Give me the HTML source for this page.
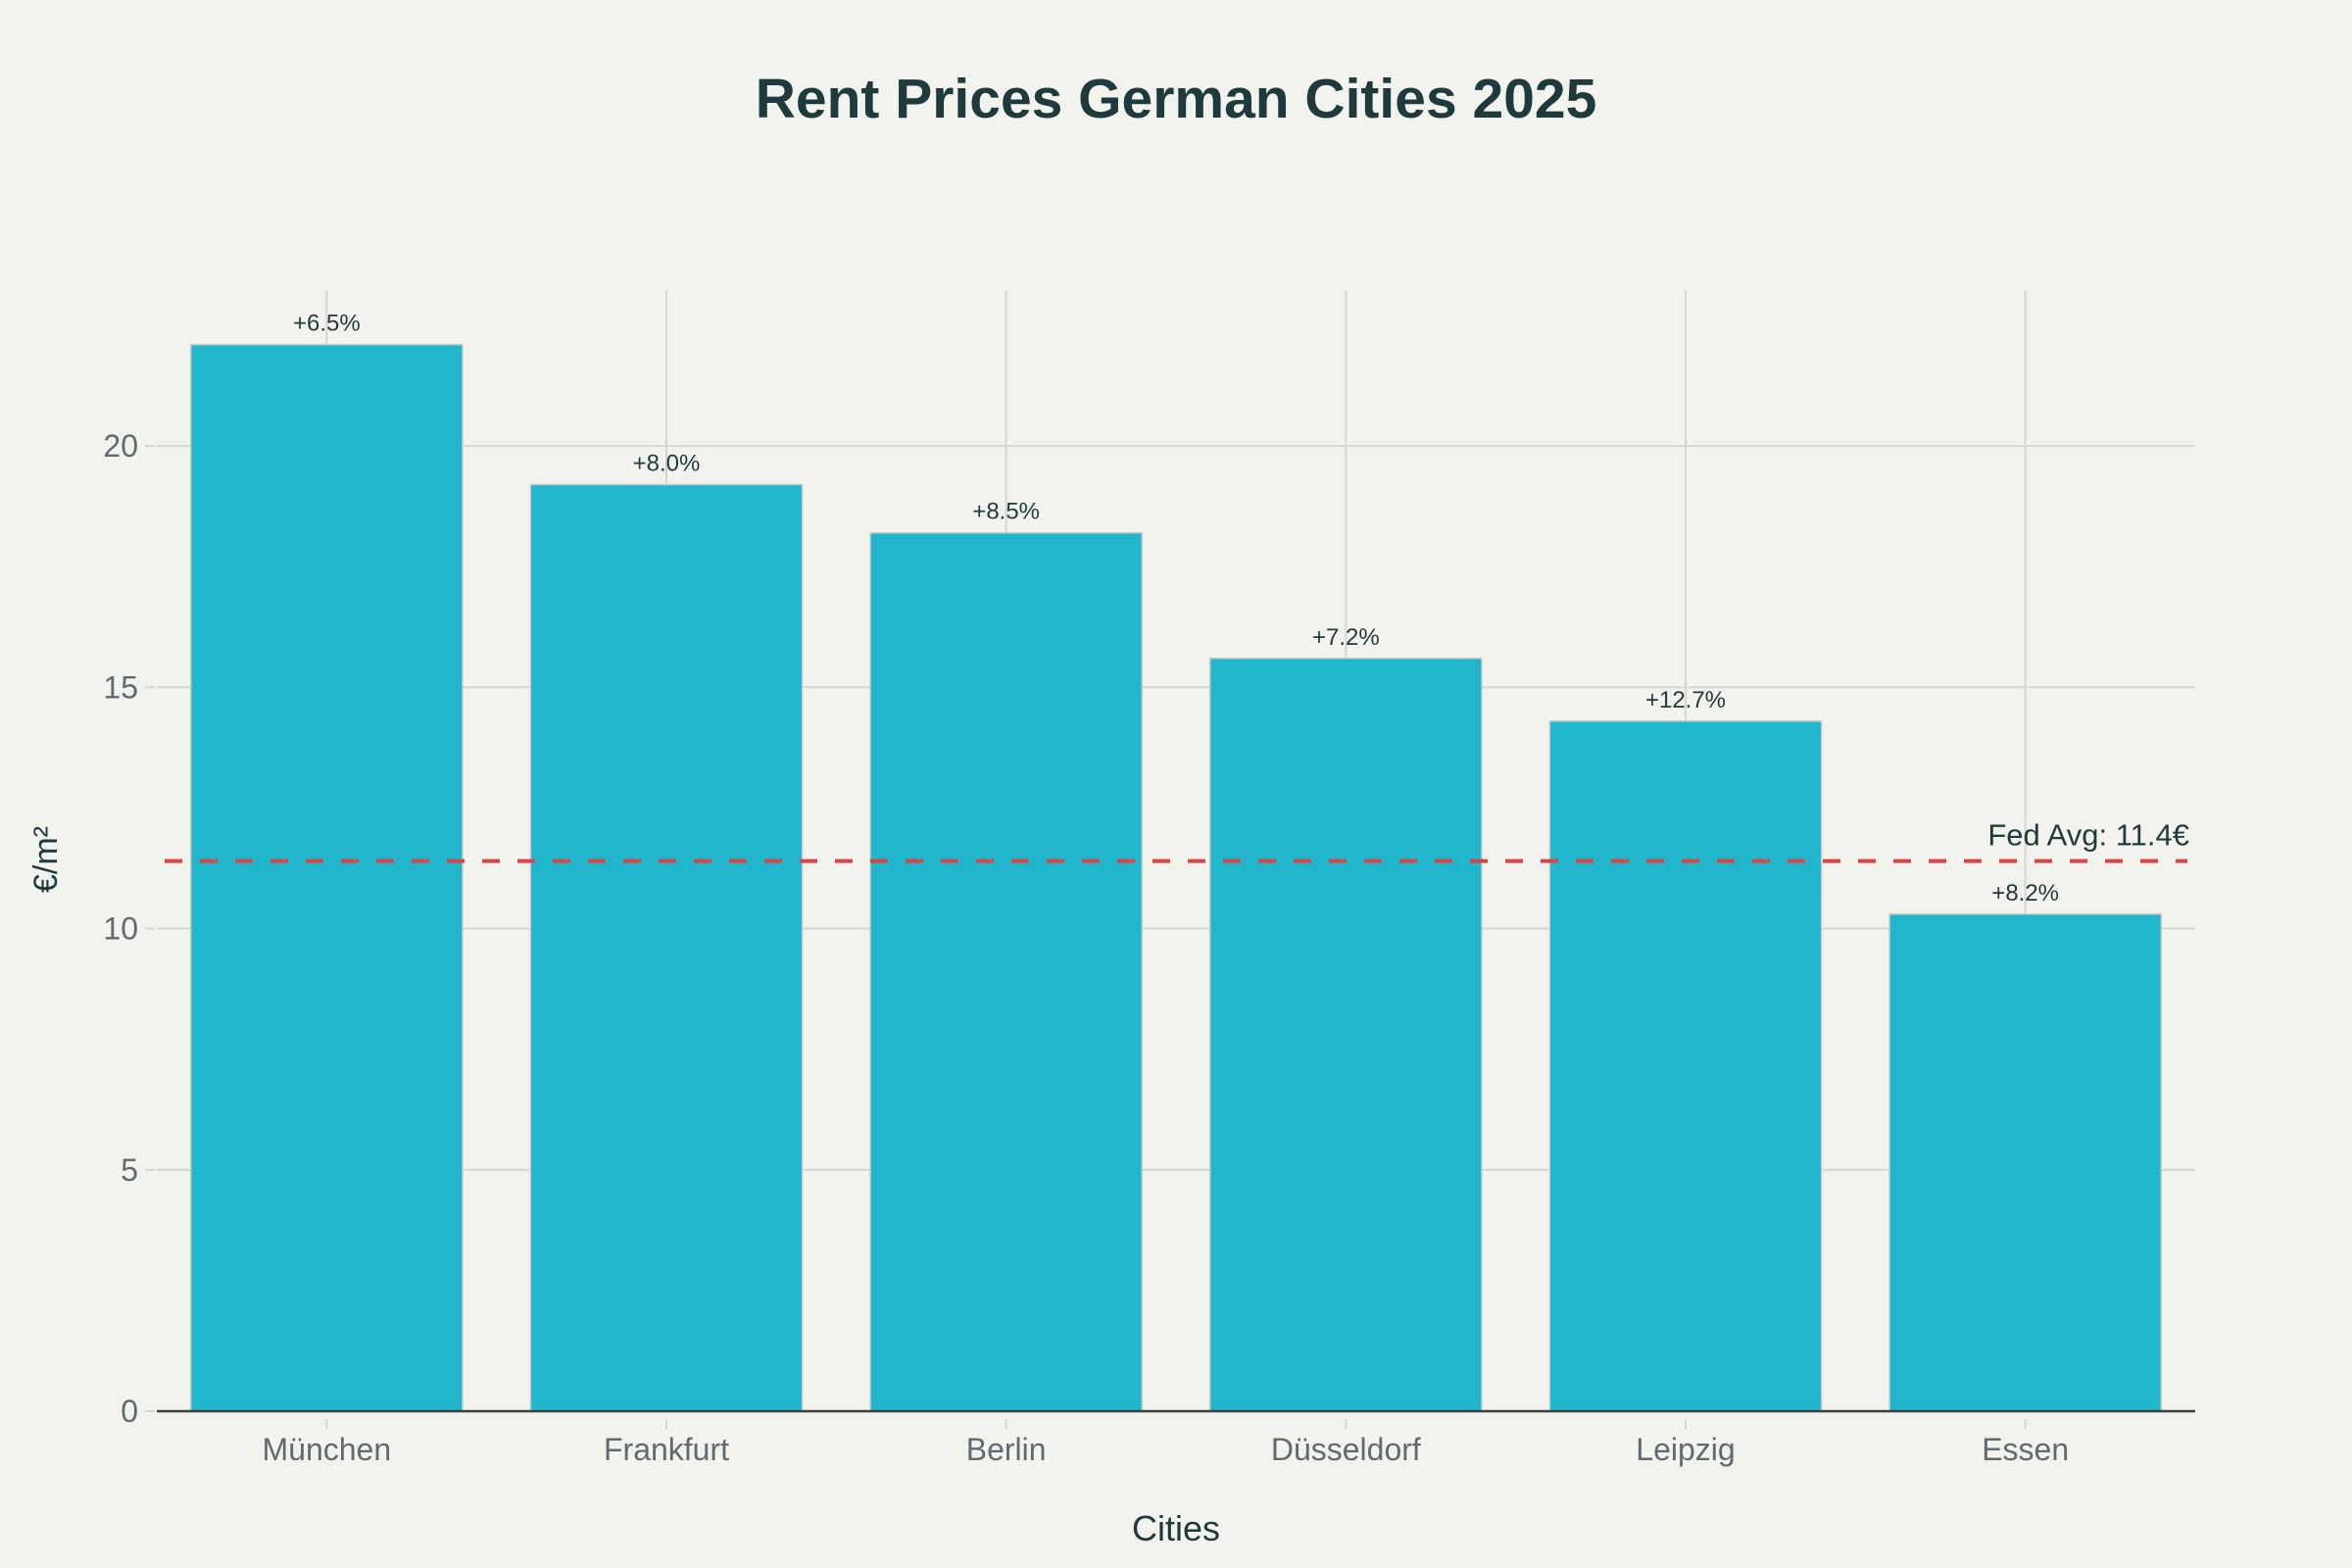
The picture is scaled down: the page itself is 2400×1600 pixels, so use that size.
<!DOCTYPE html>
<html><head><meta charset="utf-8"><style>
html,body{margin:0;padding:0;background:#f3f3ee;}
svg{display:block;font-family:"Liberation Sans","DejaVu Sans",sans-serif;}
</style></head><body>
<svg id="chart" width="2400" height="1600" viewBox="0 0 2400 1600">
<rect x="0" y="0" width="2400" height="1600" fill="#f3f3ee"/>
<text x="1200" y="120" text-anchor="middle" font-size="57" font-weight="bold" fill="#1f3a3d">Rent Prices German Cities 2025</text>
<g id="grid"></g>
<g id="bars"></g>
<g id="axes"></g>
<text x="1200" y="1572" text-anchor="middle" font-size="36" fill="#1f3a3d">Cities</text>
<text transform="translate(58,877) rotate(-90)" text-anchor="middle" font-size="34" fill="#1f3a3d">€/m²</text>
</svg>
<script>
const categories = ["München","Frankfurt","Berlin","Düsseldorf","Leipzig","Essen"];
const rents = [22.1,19.2,18.2,15.6,14.3,10.3];
const growthLabels = ["+6.5%","+8.0%","+8.5%","+7.2%","+12.7%","+8.2%"];
const yTicks = [0,5,10,15,20];
const fedAvg = 11.4;
const fedAvgLabel = "Fed Avg: 11.4€";

const NS="http://www.w3.org/2000/svg";
const L=160,R=2240,T=296,B=1440,yMax=23.23;
const band=(R-L)/categories.length;
const xC=i=>L+band*(i+0.5);
const y=v=>B-(v/yMax)*(B-T);
function mk(tag,attrs,parent,text){const e=document.createElementNS(NS,tag);for(const k in attrs)e.setAttribute(k,attrs[k]);if(text!==undefined)e.textContent=text;parent.appendChild(e);return e;}
const grid=document.getElementById('grid'),bars=document.getElementById('bars'),axes=document.getElementById('axes');

yTicks.forEach(t=>{
  if(t>0){const g=mk('line',{x1:L,x2:R,y1:y(t),y2:y(t),stroke:'#d6d5cf','stroke-width':2},grid);
  
  }
  const tk=mk('line',{x1:148,x2:158,y1:y(t),y2:y(t),stroke:'#d6d5cf','stroke-width':2},axes);
  
  
  const lb=mk('text',{x:141,y:y(t)+11,'text-anchor':'end','font-size':32,fill:'#5f6b70'},axes,String(t));
  
  
});
categories.forEach((c,i)=>{
  const g=mk('line',{x1:xC(i),x2:xC(i),y1:T,y2:B,stroke:'#d6d5cf','stroke-width':2},grid);
  
  
  const bw=band*0.8;
  const r=mk('rect',{x:xC(i)-bw/2,y:y(rents[i]),width:bw,height:B-y(rents[i]),fill:'#21b6cb',stroke:'#c9cdc8','stroke-width':1.5},bars);
  
  
  const a=mk('text',{x:xC(i),y:y(rents[i])-14,'text-anchor':'middle','font-size':24,fill:'#1f3a3d'},bars,growthLabels[i]);
  
  
  const tk=mk('line',{x1:xC(i),x2:xC(i),y1:B+8,y2:B+18,stroke:'#d6d5cf','stroke-width':2},axes);
  
  
  const xl=mk('text',{x:xC(i),y:1490,'text-anchor':'middle','font-size':32,fill:'#5f6b70'},axes,c);
  
  
});
const ax=mk('line',{x1:L,x2:R,y1:B,y2:B,stroke:'#3a3f40','stroke-width':2.5},axes);


const av=mk('line',{x1:L+8,x2:2232,y1:y(fedAvg),y2:y(fedAvg),stroke:'#d94545','stroke-width':4,'stroke-dasharray':'18 18'},axes);


const avl=mk('text',{x:2234,y:y(fedAvg)-16,'text-anchor':'end','font-size':31,fill:'#1f3a3d'},axes,fedAvgLabel);


</script>
</body></html>
